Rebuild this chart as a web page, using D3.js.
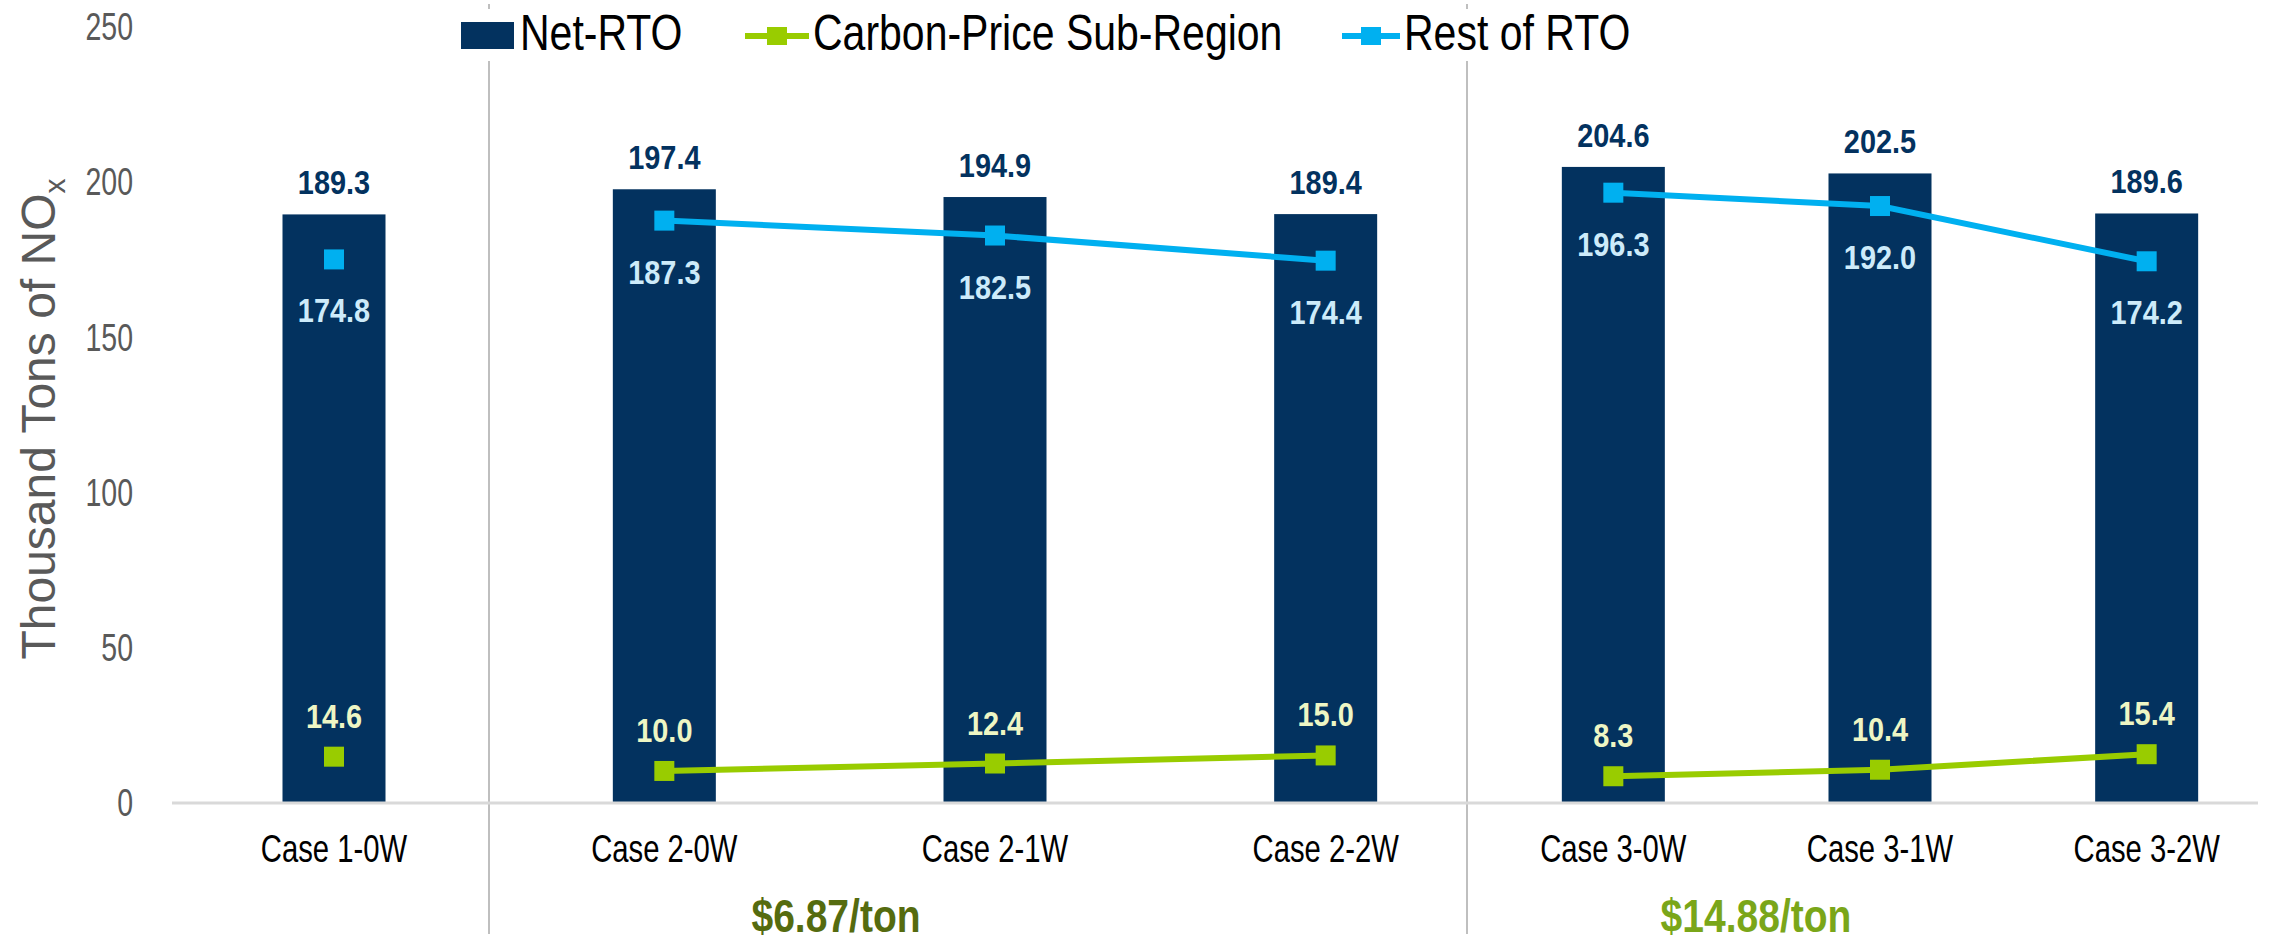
<!DOCTYPE html>
<html>
<head>
<meta charset="utf-8">
<script src="https://cdn.jsdelivr.net/npm/d3@7"></script>
<style>
  body { margin: 0; background: #fff; }
  svg { display: block; }
  text { font-family: "Liberation Sans", Arial, sans-serif; }
</style>
</head>
<body>
<script>
// data
var categories = ["Case 1-0W", "Case 2-0W", "Case 2-1W", "Case 2-2W", "Case 3-0W", "Case 3-1W", "Case 3-2W"]
var netRto = [189.3, 197.4, 194.9, 189.4, 204.6, 202.5, 189.6]
var carbonSub = [14.6, 10.0, 12.4, 15.0, 8.3, 10.4, 15.4]
var restRto = [174.8, 187.3, 182.5, 174.4, 196.3, 192.0, 174.2]
var groupOf = [0, 1, 1, 1, 2, 2, 2]
var priceLabels = ["", "$6.87/ton", "$14.88/ton"]
var yTicks = [0, 50, 100, 150, 200, 250]
var legendNames = ["Net-RTO", "Carbon-Price Sub-Region", "Rest of RTO"]

var width = 2285
var height = 942
var navy = "#03325f"
var blue = "#00b0f0"
var green = "#99cc00"
var priceColors = ["#000", "#556b0f", "#7aa619"]
var priceX = [0, 836, 1756]

// each price group is its own panel
var panels = [[172, 496], [499, 1491], [1480, 2280]]
var separators = [489, 1467]
var axisLeft = 172, axisRight = 2258
var barWidth = 103

var svg = d3.select("body").append("svg")
    .attr("width", width)
    .attr("height", height)

var y = d3.scaleLinear().domain([0, 250]).range([802, 26])

var xScales = panels.map(function (r, gi) {
    var cats = categories.filter(function (c, i) { return groupOf[i] === gi })
    return d3.scalePoint().domain(cats).range(r).padding(0.5)
})
function xc(i) { return xScales[groupOf[i]](categories[i]) }

// narrow text: squeeze the glyphs horizontally like Arial Narrow
function squeeze(x, y, sx) { return "translate(" + x + "," + y + ") scale(" + sx + ",1)" }

// separators
svg.selectAll(".sep")
    .data(separators)
    .enter().append("line")
    .attr("x1", function (d) { return d }).attr("x2", function (d) { return d })
    .attr("y1", 4).attr("y2", 934)
    .attr("stroke", "#bfbfbf").attr("stroke-width", 2)

// y axis labels
var yAxis = d3.axisLeft(y).tickValues(yTicks).tickSize(0).tickPadding(0)
var yg = svg.append("g").attr("transform", "translate(133,0)").call(yAxis)
yg.select(".domain").remove()
yg.selectAll("text")
    .attr("x", 0)
    .attr("dy", "0.36em")
    .attr("transform", "scale(0.75,1)")
    .attr("font-size", 38)
    .attr("fill", "#595959")
    .style("font-family", '"Liberation Sans", Arial, sans-serif')

// y title
var yt = svg.append("text")
    .attr("transform", "translate(55,419) rotate(-90)")
    .attr("text-anchor", "middle")
    .attr("font-size", 48)
    .attr("fill", "#595959")
yt.append("tspan").text("Thousand Tons of NO")
yt.append("tspan").attr("font-size", 30).attr("dy", 10).text("x")

// bars
svg.selectAll(".bar")
    .data(netRto)
    .enter().append("rect")
    .attr("class", "bar")
    .attr("x", function (d, i) { return xc(i) - barWidth / 2 })
    .attr("y", function (d) { return y(d) })
    .attr("width", barWidth)
    .attr("height", function (d) { return y(0) - y(d) })
    .attr("fill", navy)

// baseline
svg.append("line")
    .attr("x1", axisLeft).attr("x2", axisRight)
    .attr("y1", y(0) + 1).attr("y2", y(0) + 1)
    .attr("stroke", "#d9d9d9").attr("stroke-width", 3)

// x labels
svg.selectAll(".xlab")
    .data(categories)
    .enter().append("text")
    .attr("transform", function (d, i) { return squeeze(xc(i), 862, 0.77) })
    .attr("text-anchor", "middle")
    .attr("font-size", 38)
    .attr("fill", "#000")
    .text(function (d) { return d })

// price labels under groups
svg.selectAll(".price")
    .data(priceLabels.filter(function (p) { return p }))
    .enter().append("text")
    .attr("transform", function (d) {
        var gi = priceLabels.indexOf(d)
        return squeeze(priceX[gi], 932, 0.83)
    })
    .attr("text-anchor", "middle")
    .attr("font-size", 47)
    .attr("font-weight", "bold")
    .attr("fill", function (d) { return priceColors[priceLabels.indexOf(d)] })
    .text(function (d) { return d })

// lines, drawn per group
var line = d3.line()
    .x(function (d) { return xc(d.i) })
    .y(function (d) { return y(d.v) })

function drawSeries(vals, color, cls) {
    [0, 1, 2].forEach(function (gi) {
        var pts = vals.map(function (v, i) { return { v: v, i: i } })
            .filter(function (d) { return groupOf[d.i] === gi })
        if (pts.length > 1) {
            svg.append("path")
                .datum(pts)
                .attr("d", line)
                .attr("fill", "none")
                .attr("stroke", color)
                .attr("stroke-width", 6)
        }
    })
    svg.selectAll("." + cls)
        .data(vals)
        .enter().append("rect")
        .attr("class", cls)
        .attr("x", function (d, i) { return xc(i) - 10 })
        .attr("y", function (d) { return y(d) - 10 })
        .attr("width", 20)
        .attr("height", 20)
        .attr("fill", color)
}
drawSeries(restRto, blue, "mrest")
drawSeries(carbonSub, green, "mcarb")

// value labels
function labels(vals, color, dy) {
    svg.selectAll(null)
        .data(vals)
        .enter().append("text")
        .attr("transform", function (d, i) { return squeeze(xc(i), y(d) + dy, 0.85) })
        .attr("text-anchor", "middle")
        .attr("font-size", 34)
        .attr("font-weight", "bold")
        .attr("fill", color)
        .text(function (d) { return d.toFixed(1) })
}
labels(netRto, navy, -20)
labels(restRto, "#cdebfa", 63)
labels(carbonSub, "#eef6c4", -29)

// legend
svg.append("rect")
    .attr("x", 450).attr("y", 9).attr("width", 1195).attr("height", 52)
    .attr("fill", "#fff")

var lg = svg.append("g")
lg.append("rect").attr("x", 461).attr("y", 22).attr("width", 53).attr("height", 27).attr("fill", navy)
lg.append("text").attr("transform", squeeze(520, 50, 0.82)).attr("font-size", 50).text(legendNames[0])

var legendLines = [[745, 809, green], [1342, 1400, blue]]
legendLines.forEach(function (l, k) {
    lg.append("line").attr("x1", l[0]).attr("x2", l[1]).attr("y1", 36).attr("y2", 36)
        .attr("stroke", l[2]).attr("stroke-width", 6)
    lg.append("rect").attr("x", (l[0] + l[1]) / 2 - 10).attr("y", 27).attr("width", 20).attr("height", 18)
        .attr("fill", l[2])
    lg.append("text").attr("transform", squeeze(l[1] + 4, 50, 0.82)).attr("font-size", 50).text(legendNames[k + 1])
})
</script>
</body>
</html>
